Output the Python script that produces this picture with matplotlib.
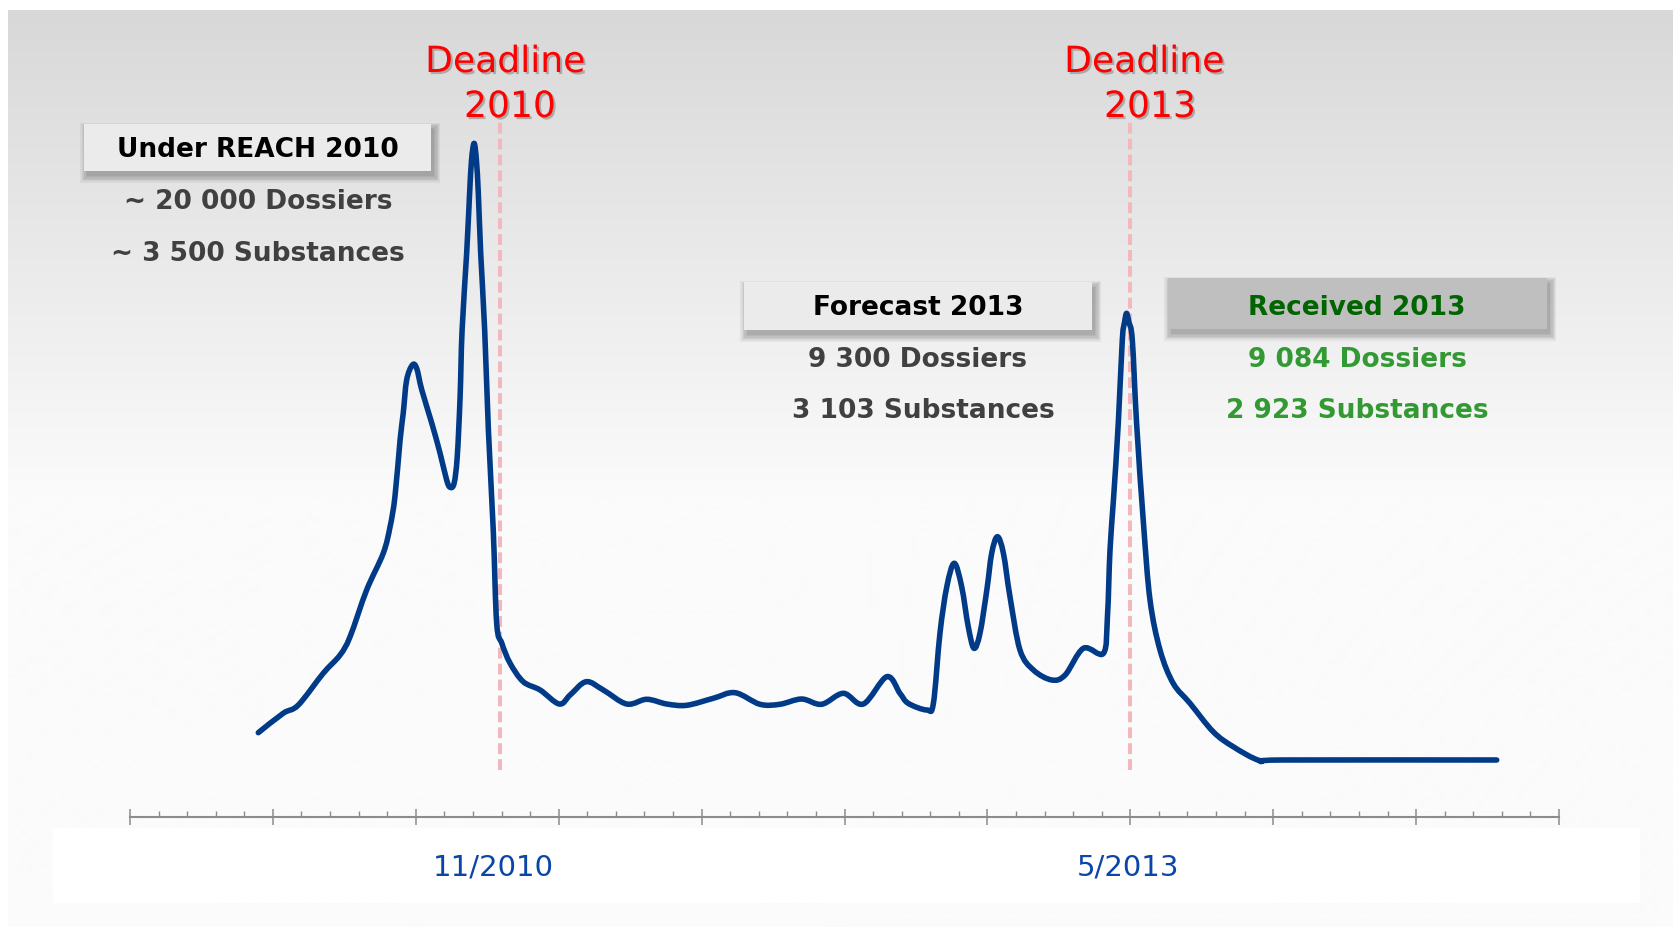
import numpy as np
import matplotlib
matplotlib.use("Agg")
import matplotlib.pyplot as plt
import matplotlib.patheffects as pe
from matplotlib.patches import Rectangle, PathPatch
from matplotlib.path import Path


# Data: x in axis tick units (0..50), y relative to the 2010 peak (=100)
period = [4.49, 5.36, 5.89, 6.76, 7.35, 7.70, 8.28, 8.86, 9.10, 9.27,
          9.45, 9.56, 9.68, 9.88, 10.03, 10.21, 10.56, 10.85, 11.08, 11.20,
          11.34, 11.45, 11.55, 11.62, 11.78, 11.88, 11.95, 12.04, 12.12, 12.19,
          12.27, 12.41, 12.54, 12.71, 12.83, 13.01, 13.30, 13.76, 14.35, 15.02,
          15.40, 15.96, 16.56, 17.38, 18.08, 18.78, 19.48, 20.41, 21.17, 22.04,
          22.74, 23.50, 24.20, 24.96, 25.66, 26.48, 26.94, 27.23, 27.88, 28.11,
          28.34, 28.58, 28.84, 29.10, 29.33, 29.53, 29.74, 29.98, 30.15, 30.35,
          30.56, 30.79, 31.14, 31.61, 32.25, 32.72, 33.36, 34.06, 34.20, 34.29,
          34.41, 34.58, 34.72, 34.80, 34.87, 34.95, 35.07, 35.22, 35.46, 35.69,
          36.04, 36.50, 37.09, 37.90, 38.60, 39.54, 40.35, 47.82]
volume = [12.53, 15.41, 16.64, 21.35, 24.07, 26.79, 33.73, 39.18, 43.13, 47.59,
          56.02, 59.99, 64.93, 67.16, 66.67, 63.45, 58.50, 54.04, 50.07, 48.99,
          49.58, 53.54, 62.45, 72.36, 83.80, 92.42, 97.62, 100.10, 97.62, 92.42,
          83.80, 72.36, 57.50, 42.64, 28.78, 25.81, 22.84, 20.10, 18.87, 16.79,
          18.13, 20.10, 18.87, 16.79, 17.49, 16.79, 16.60, 17.64, 18.47, 16.75,
          16.75, 17.53, 16.75, 18.38, 16.79, 20.85, 18.38, 16.89, 15.90, 16.89,
          27.30, 34.22, 37.70, 34.22, 28.28, 25.07, 27.30, 33.73, 39.18, 41.65,
          39.18, 32.73, 24.81, 21.84, 20.36, 21.10, 25.07, 24.32, 29.76, 39.67,
          47.10, 58.54, 70.88, 73.55, 74.84, 73.55, 70.88, 58.54, 43.68, 32.24,
          24.81, 19.87, 16.89, 12.67, 10.45, 8.37, 8.47, 8.47]

deadline_pos = [12.95, 35.0]
tick_label_pos = [12.70, 34.92]
tick_labels = ["11/2010", "5/2013"]

W, H, DPI = 1673, 927, 100
fig = plt.figure(figsize=(W / DPI, H / DPI), dpi=DPI)
fig.patch.set_facecolor("white")

# background layer in pixel coordinates
bg = fig.add_axes([0, 0, 1, 1], zorder=0)
bg.set_xlim(0, W)
bg.set_ylim(H, 0)
bg.axis("off")

rows = np.arange(10, H + 1)
shade = np.clip(216 + (rows - 10) * 0.072, 0, 251) / 255.0
grad = np.repeat(shade[:, None, None], 3, axis=2)
bg.imshow(grad, extent=(8, W, H, 10), aspect="auto", interpolation="bilinear", zorder=0)
bg.add_patch(Rectangle((53, 828), 1587, 75, fc="white", ec="none", zorder=1))


def shadowed_box(x0, y0, x1, y1, fc):
    for k in range(6):
        g = k * 1.3
        bg.add_patch(Rectangle((x0 + 3 - g, y0 + 5 - g), (x1 - x0) + 2 * g, (y1 - y0) + 2 * g,
                               fc="black", ec="none", alpha=0.05, zorder=2))
    bg.add_patch(Rectangle((x0, y0), x1 - x0, y1 - y0, fc=fc, ec="none", zorder=3))


shadowed_box(84, 124, 431, 171, "#ebebeb")
shadowed_box(744, 282, 1092, 330, "#ebebeb")
shadowed_box(1168, 278, 1547, 329, "#bfbfbf")

bold = dict(family="DejaVu Sans", fontsize=19, fontweight="bold", ha="center", va="baseline", zorder=4)
bg.text(258, 157, "Under REACH 2010", color="black", **bold)
bg.text(258, 209, "~ 20 000 Dossiers", color="#404040", **bold)
bg.text(258, 261, "~ 3 500 Substances", color="#404040", **bold)
bg.text(918, 315, "Forecast 2013", color="black", **bold)
bg.text(918, 367, "9 300 Dossiers", color="#404040", **bold)
bg.text(923, 418, "3 103 Substances", color="#404040", **bold)
bg.text(1357, 315, "Received 2013", color="#006400", **bold)
bg.text(1357, 367, "9 084 Dossiers", color="#339933", **bold)
bg.text(1357, 418, "2 923 Substances", color="#339933", **bold)

shadow = [pe.withSimplePatchShadow(offset=(1.5, -1.5), shadow_rgbFace="#777777", alpha=0.5)]
red = dict(family="DejaVu Sans", fontsize=26, color="#ff0000", ha="center", va="baseline",
           zorder=4, path_effects=shadow)
bg.text(505, 72, "Deadline", **red)
bg.text(510, 117, "2010", **red)
bg.text(1144, 72, "Deadline", **red)
bg.text(1150, 117, "2013", **red)

# data axes
ax = fig.add_axes([130 / W, 1 - 817 / H, (1559 - 130) / W, 740.3 / H], zorder=1)
ax.patch.set_alpha(0)
ax.set_xlim(0, 50)
ax.set_ylim(0, 110)
for side in ["top", "left", "right"]:
    ax.spines[side].set_visible(False)
ax.spines["bottom"].set_color("#8c8c8c")
ax.spines["bottom"].set_linewidth(1.5)
ax.set_yticks([])
ax.set_xticks(np.arange(0, 51, 5))
ax.set_xticks(np.arange(0, 51, 1), minor=True)
ax.set_xticklabels([])
ax.tick_params(axis="x", which="major", direction="inout", length=11, width=1.1, color="#8c8c8c")
ax.tick_params(axis="x", which="minor", direction="in", length=4.3, width=1.0, color="#8c8c8c")

ax.vlines(deadline_pos, 7.0, 103.6, colors="#f2b9bd", linewidth=2.9,
          linestyles=(0, (2.7, 1.25)), zorder=2)

# smoothed line through the points (like a "smoothed line" chart)
pts = np.column_stack([period, volume])
verts = [pts[0]]
codes = [Path.MOVETO]
for i in range(len(pts) - 1):
    p0 = pts[max(i - 1, 0)]
    p1 = pts[i]
    p2 = pts[i + 1]
    p3 = pts[min(i + 2, len(pts) - 1)]
    verts += [p1 + (p2 - p0) / 6.0, p2 - (p3 - p1) / 6.0, p2]
    codes += [Path.CURVE4] * 3
ax.add_patch(PathPatch(Path(verts, codes), fill=False, edgecolor="#013a87", linewidth=4.0,
                       joinstyle="round", capstyle="round", zorder=3))

for pos, lab in zip(tick_label_pos, tick_labels):
    ax.text(pos, -58 / 6.73, lab, color="#0a46a8", fontsize=21, family="DejaVu Sans",
            ha="center", va="baseline", clip_on=False)

fig.savefig("out.png", dpi=DPI)
